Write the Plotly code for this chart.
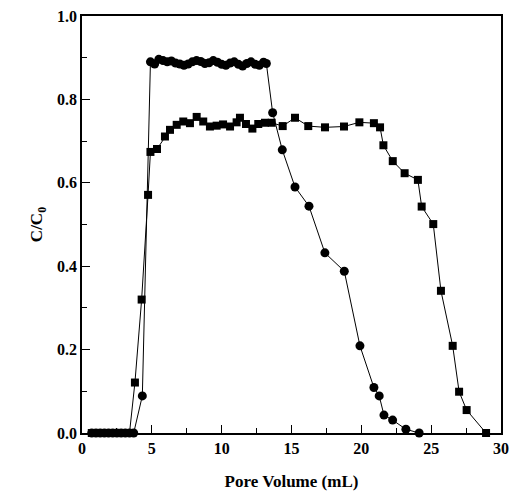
import plotly.graph_objects as go

# Circle series
circ_x = [0.7, 1.0, 1.3, 1.6, 1.9, 2.2, 2.5, 2.8, 3.1, 3.4, 3.7,
          4.32,
          4.9, 5.2, 5.5, 5.8, 6.1, 6.4, 6.7, 7.0, 7.3, 7.6, 7.9, 8.2, 8.5, 8.8,
          9.1, 9.4, 9.7, 10.0, 10.3, 10.6, 10.9, 11.2, 11.5, 11.8, 12.1, 12.4,
          12.7, 13.0, 13.2,
          13.65, 14.34, 15.25, 16.25, 17.39, 18.78, 19.9, 20.9, 21.28, 21.62,
          22.24, 23.19, 24.14]
circ_y = [0, 0, 0, 0, 0, 0, 0, 0, 0, 0, 0,
          0.089,
          0.890, 0.885, 0.896, 0.893, 0.890, 0.892, 0.887, 0.885, 0.882, 0.885,
          0.890, 0.893, 0.891, 0.886, 0.888, 0.893, 0.889, 0.884, 0.882, 0.887,
          0.890, 0.884, 0.880, 0.886, 0.890, 0.884, 0.882, 0.889, 0.886,
          0.768, 0.679, 0.590, 0.544, 0.432, 0.388, 0.209, 0.109, 0.089, 0.043,
          0.031, 0.009, 0.0]

# Square series
sq_x = [0.7, 1.0, 1.3, 1.6, 1.9, 2.2, 2.5, 2.8, 3.1, 3.4,
        3.79, 4.27, 4.73, 4.9, 5.37, 5.94, 6.3, 6.78, 7.25, 7.73, 8.21, 8.68,
        9.16, 9.64, 10.1, 10.6, 11.07, 11.31, 11.74, 12.2, 12.62, 13.1, 13.58,
        14.37, 15.25, 16.2, 17.4, 18.76, 19.86, 20.9, 21.34, 21.58, 22.25,
        23.1, 24.05, 24.32, 25.15, 25.7, 26.54, 27.0, 27.54, 28.93]
sq_y = [0, 0, 0, 0, 0, 0, 0, 0, 0, 0,
        0.121, 0.320, 0.571, 0.674, 0.681, 0.711, 0.727, 0.739, 0.747, 0.743,
        0.758, 0.747, 0.735, 0.737, 0.740, 0.735, 0.745, 0.756, 0.741, 0.730,
        0.741, 0.744, 0.744, 0.736, 0.756, 0.736, 0.733, 0.735, 0.745, 0.743,
        0.733, 0.690, 0.652, 0.623, 0.607, 0.543, 0.501, 0.341, 0.209, 0.099,
        0.055, 0.0]

x_ticks = [0, 5, 10, 15, 20, 25, 30]
y_ticks = [0.0, 0.2, 0.4, 0.6, 0.8, 1.0]

font_family = "Liberation Serif, Times New Roman, serif"

fig = go.Figure()
fig.add_trace(go.Scatter(
    x=sq_x, y=sq_y, mode="lines+markers",
    line=dict(color="black", width=1),
    marker=dict(symbol="square", size=8, color="black"),
    showlegend=False, cliponaxis=False))
fig.add_trace(go.Scatter(
    x=circ_x, y=circ_y, mode="lines+markers",
    line=dict(color="black", width=1),
    marker=dict(symbol="circle", size=9, color="black"),
    showlegend=False, cliponaxis=False))

axis_common = dict(
    showgrid=False, zeroline=False, showline=True, linecolor="black",
    linewidth=1.5, mirror=True, ticks="inside", ticklen=8, tickwidth=1.2,
    tickcolor="black", automargin=False, ticklabeloverflow="allow",
    tickfont=dict(family=font_family, size=16, color="black", weight="bold"),
)

fig.update_xaxes(
    range=[0, 30], tickvals=x_ticks, ticktext=[str(v) for v in x_ticks],
    minor=dict(dtick=2.5, ticks="inside", ticklen=5, tickcolor="black", tickwidth=1.2),
    title=dict(text="Pore Volume (mL)", standoff=19,
               font=dict(family=font_family, size=17, color="black", weight="bold")),
    **axis_common)
fig.update_yaxes(
    range=[0, 1.0], tickvals=y_ticks, ticktext=[f"{v:.1f}" for v in y_ticks],
    minor=dict(dtick=0.1, ticks="inside", ticklen=5, tickcolor="black", tickwidth=1.2),
    title=dict(text="C/C<sub>0</sub>", standoff=10,
               font=dict(family=font_family, size=17, color="black", weight="bold")),
    **axis_common)

fig.update_layout(
    width=517, height=491,
    margin=dict(l=82, r=16, t=16, b=58),
    paper_bgcolor="white", plot_bgcolor="white",
    font=dict(family=font_family, color="black"),
)

fig.write_html(
    "out.html",
    config={"displayModeBar": False},
    post_script="document.body.style.margin='0';document.body.style.overflow='hidden';",
)
